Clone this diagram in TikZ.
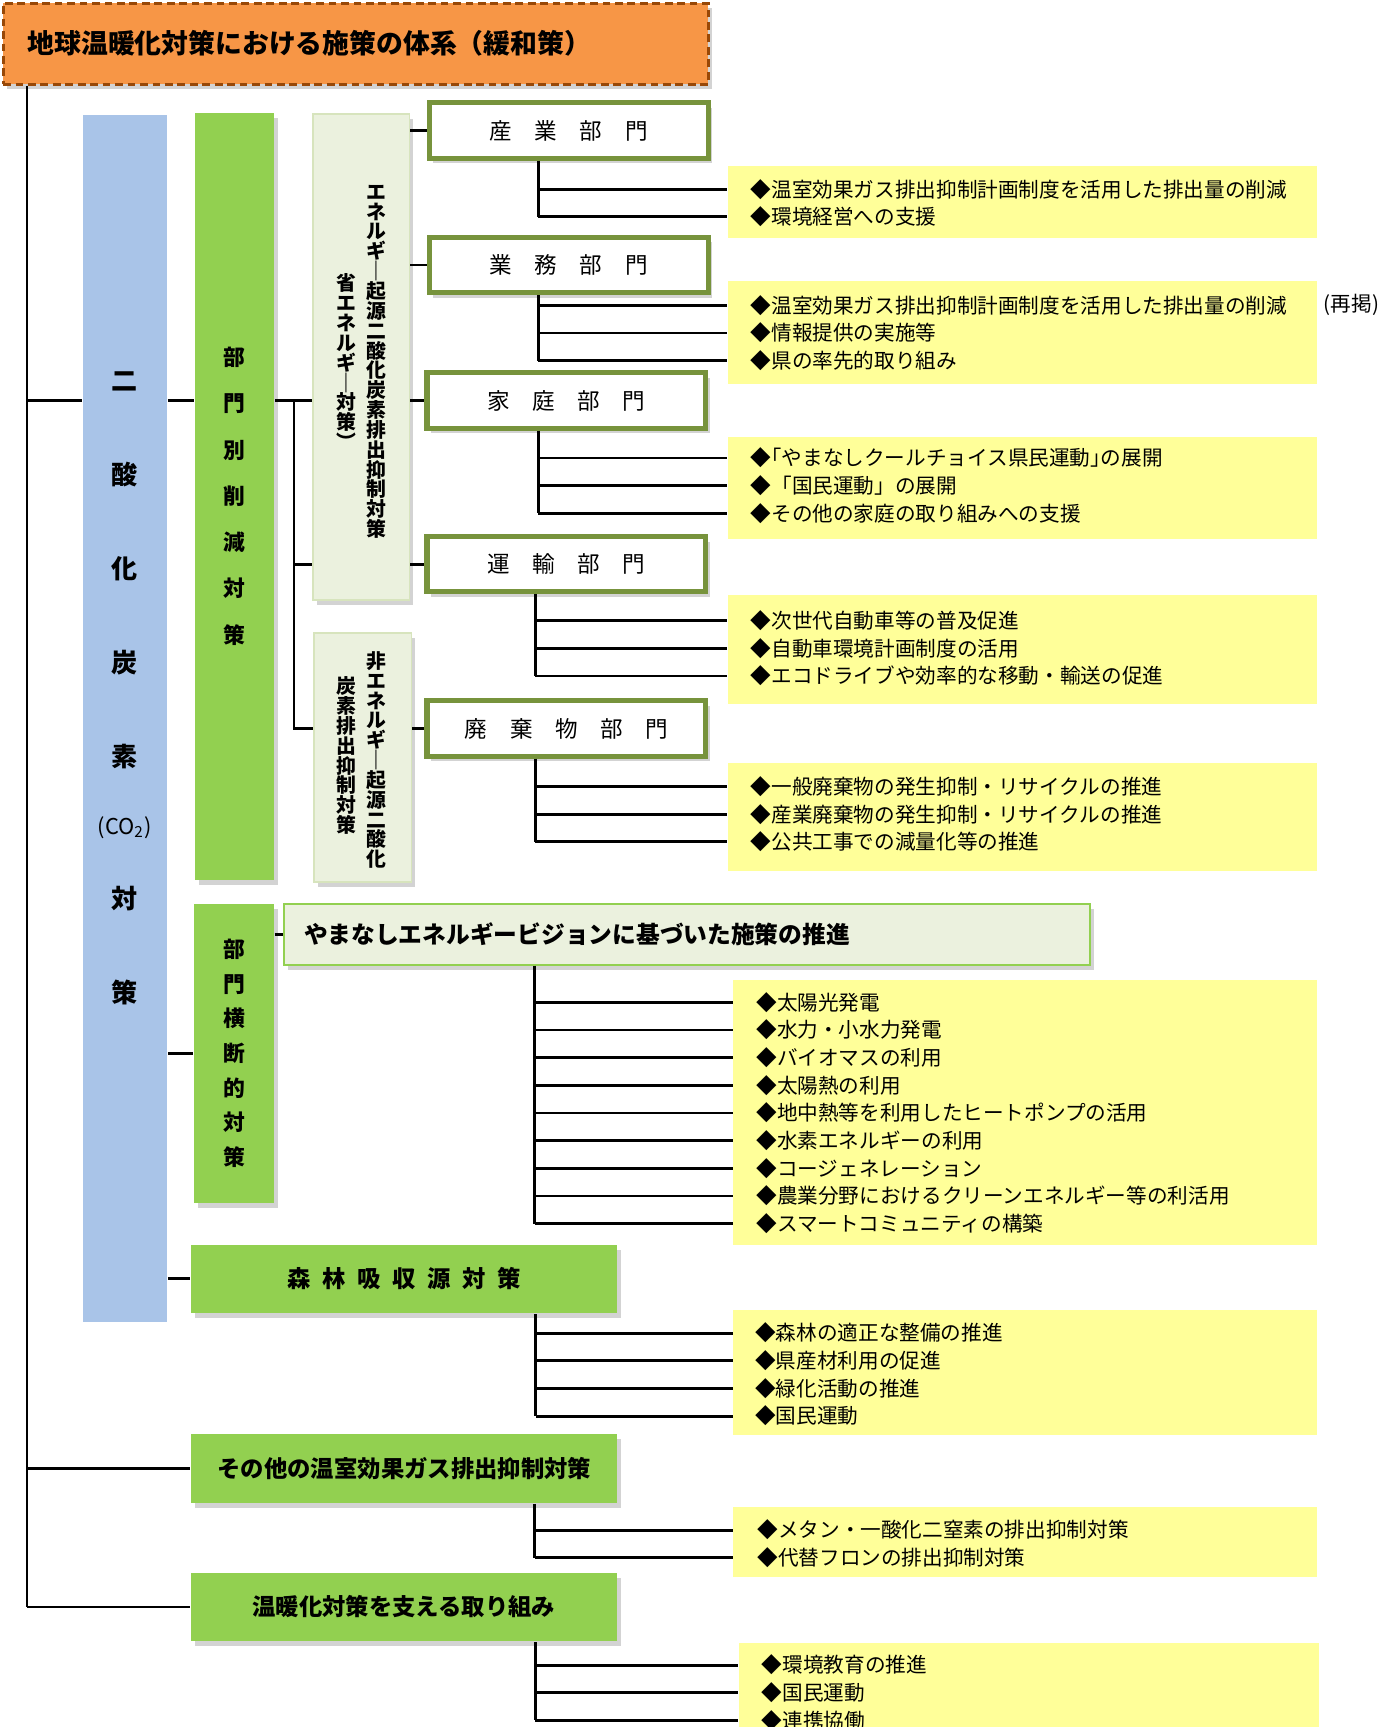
\documentclass[tikz,border=0pt]{standalone}
\usepackage{fontspec}
\setmainfont{Noto Sans CJK JP}
\usetikzlibrary{positioning, shadows}

\definecolor{titleorange}{HTML}{F79646}
\definecolor{titleedge}{HTML}{984807}
\definecolor{co2blue}{HTML}{A9C4E8}
\definecolor{leafgreen}{HTML}{92D050}
\definecolor{olivegreen}{HTML}{77933C}
\definecolor{palegreen}{HTML}{EBF1DE}
\definecolor{paleedge}{HTML}{D7E4BD}
\definecolor{itemyellow}{HTML}{FFFF99}

% item lines inside a yellow box: name, x, first y, list
\newcommand{\itemlist}[4]{%
  \foreach \txt [count=\k] in {#4} {\node[itemtext] (#1-\k) at (#2,{#3+25*(\k-1)}) {\txt};}}
\newcommand{\hsp}{\hspace{0.5em}}

\begin{document}
\begin{tikzpicture}[x=0.01cm, y=-0.01cm,
    boxshadow/.style={drop shadow={opacity=0.35, shadow xshift=0.035cm, shadow yshift=-0.045cm}},
    titlebox/.style={draw=titleedge, dash pattern=on 2pt off 1.2pt, line width=0.8pt, fill=titleorange, minimum width=6.37cm, minimum height=0.73cm, text width=5.93cm, align=left, inner xsep=0.22cm, font=\bfseries\fontsize{6.9}{8}\selectfont, boxshadow},
    colbar/.style={fill=co2blue, inner sep=0, minimum width=0.76cm},
    greenbar/.style={fill=leafgreen, inner sep=0, minimum width=0.72cm, align=center, boxshadow},
    palebox/.style={fill=palegreen, draw=paleedge, line width=0.4pt, inner sep=0, boxshadow},
    tate/.style={inner sep=0, align=center, font=\bfseries\fontsize{5.1}{5.1}\selectfont},
    sector/.style={draw=olivegreen, line width=1.3pt, fill=white, minimum width=2.52cm, minimum height=0.50cm, font=\fontsize{5.8}{6}\selectfont, boxshadow},
    greenbox/.style={fill=leafgreen, minimum width=3.85cm, minimum height=0.62cm, font=\bfseries\fontsize{6}{7}\selectfont, boxshadow},
    itembox/.style={fill=itemyellow, inner sep=0},
    itemtext/.style={anchor=west, inner sep=0, font=\fontsize{5.3}{6}\selectfont},
    conn/.style={line width=0.75pt}]

  \useasboundingbox (0,0) rectangle (1250,1561);

  % title
  \node[titlebox] (title) at (321.5,39.5) {地球温暖化対策における施策の体系（緩和策）};

  % CO2 column
  \node[colbar, minimum height=10.91cm] (co2) at (113,649.5) {};
  \node[inner sep=0, align=center, font=\bfseries\fontsize{6.7}{24.2}\selectfont] (co2txt) at (113,622)
    {二\\酸\\化\\炭\\素\\[-6.9pt]{\mdseries\fontsize{5.6}{7}\selectfont(CO\textsubscript{2})}\\[-5.1pt]対\\策};

  \node[greenbar, minimum height=6.93cm, font=\bfseries\fontsize{5.6}{11.9}\selectfont] (bumon) at (212,448.5) {部\\門\\別\\削\\減\\対\\策};
  \node[greenbar, minimum height=2.70cm, font=\bfseries\fontsize{5.6}{8.9}\selectfont] (oudan) at (211.5,952) {部\\門\\横\\断\\的\\対\\策};

  % energy / non-energy
  \node[palebox, minimum width=0.87cm, minimum height=4.39cm] (ene) at (326.5,322.5) {};
  \node[tate] (eneA) at (340,327) {エ\\ネ\\ル\\ギ\\｜\\起\\源\\二\\酸\\化\\炭\\素\\排\\出\\抑\\制\\対\\策};
  \node[tate] (eneB) at (313,327) {省\\エ\\ネ\\ル\\ギ\\｜\\対\\策\\︶};
  \node[palebox, minimum width=0.88cm, minimum height=2.25cm] (hien) at (328,684.5) {};
  \node[tate] (hienA) at (340,687) {非\\エ\\ネ\\ル\\ギ\\｜\\起\\源\\二\\酸\\化};
  \node[tate] (hienB) at (313,683) {炭\\素\\排\\出\\抑\\制\\対\\策};

  % sectors
  \node[sector] (sang) at (514,118) {産　業　部　門};
  \node[sector] (gyomu) at (514,239.5) {業　務　部　門};
  \node[sector] (katei) at (512,362) {家　庭　部　門};
  \node[sector] (unyu) at (512,510) {運　輸　部　門};
  \node[sector] (haiki) at (512,658.5) {廃　棄　物　部　門};

  \node[palebox, draw=leafgreen, minimum width=7.28cm, minimum height=0.55cm, text width=6.92cm, align=left, inner xsep=0.18cm, font=\bfseries\fontsize{6.1}{7}\selectfont] (vision) at (621,844.5) {やまなしエネルギービジョンに基づいた施策の推進};

  \node[greenbox] (shinrin) at (365.5,1156) {森\hsp 林\hsp 吸\hsp 収\hsp 源\hsp 対\hsp 策};
  \node[greenbox] (sonota) at (365.5,1327.5) {その他の温室効果ガス排出抑制対策};
  \node[greenbox] (shien) at (365,1452.5) {温暖化対策を支える取り組み};

  % yellow boxes
  \node[itembox, minimum width=5.32cm, minimum height=0.65cm] (ysang) at (924,182.5) {};
  \node[itembox, minimum width=5.32cm, minimum height=0.93cm] (ygyomu) at (924,300.5) {};
  \node[itembox, minimum width=5.32cm, minimum height=0.92cm] (ykatei) at (924,441) {};
  \node[itembox, minimum width=5.32cm, minimum height=0.98cm] (yunyu) at (924,587) {};
  \node[itembox, minimum width=5.32cm, minimum height=0.97cm] (yhaiki) at (924,738.5) {};
  \node[itembox, minimum width=5.27cm, minimum height=2.39cm] (yvision) at (926.5,1005.5) {};
  \node[itembox, minimum width=5.27cm, minimum height=1.13cm] (yshinrin) at (926.5,1240.5) {};
  \node[itembox, minimum width=5.27cm, minimum height=0.63cm] (ysonota) at (926.5,1393.5) {};
  \node[itembox, minimum width=5.24cm, minimum height=0.76cm] (yshien) at (930,1523) {};

  \itemlist{ysang}{678}{171}{◆温室効果ガス排出抑制計画制度を活用した排出量の削減, ◆環境経営への支援}
  \itemlist{ygyomu}{678}{276}{◆温室効果ガス排出抑制計画制度を活用した排出量の削減, ◆情報提供の実施等, ◆県の率先的取り組み}
  \itemlist{ykatei}{678}{414}{◆｢やまなしクールチョイス県民運動｣の展開, ◆「国民運動」の展開, ◆その他の家庭の取り組みへの支援}
  \itemlist{yunyu}{678}{561}{◆次世代自動車等の普及促進, ◆自動車環境計画制度の活用, ◆エコドライブや効率的な移動・輸送の促進}
  \itemlist{yhaiki}{678}{711}{◆一般廃棄物の発生抑制・リサイクルの推進, ◆産業廃棄物の発生抑制・リサイクルの推進, ◆公共工事での減量化等の推進}
  \itemlist{yvision}{683}{906}{◆太陽光発電, ◆水力・小水力発電, ◆バイオマスの利用, ◆太陽熱の利用, ◆地中熱等を利用したヒートポンプの活用, ◆水素エネルギーの利用, ◆コージェネレーション, ◆農業分野におけるクリーンエネルギー等の利活用, ◆スマートコミュニティの構築}
  \itemlist{yshinrin}{682}{1205}{◆森林の適正な整備の推進, ◆県産材利用の促進, ◆緑化活動の推進, ◆国民運動}
  \itemlist{ysonota}{684}{1383}{◆メタン・一酸化二窒素の排出抑制対策, ◆代替フロンの排出抑制対策}
  \itemlist{yshien}{688}{1505}{◆環境教育の推進, ◆国民運動, ◆連携協働}

  \node[itemtext] (saikei) at ([xshift=0.05cm]ygyomu.east |- ygyomu-1.west) {(再掲)};

  % trunk and branches
  \coordinate (trunk) at ([xshift=0.23cm]title.south west);
  \draw[conn] (trunk) -- (trunk |- shien.west);
  \draw[conn] (trunk |- katei.west) -- (co2.west |- katei.west);
  \draw[conn] (trunk |- sonota.west) -- (sonota.west);
  \draw[conn] (trunk |- shien.west) -- (shien.west);

  \draw[conn] (co2.east |- katei.west) -- (bumon.west |- katei.west);
  \draw[conn] (co2.east |- oudan.west) -- (oudan.west);
  \draw[conn] (co2.east |- shinrin.west) -- (shinrin.west);
  \draw[conn] (oudan.east |- vision.west) -- (vision.west);

  \coordinate (bumonbus) at ([xshift=0.17cm]bumon.east |- katei.west);
  \draw[conn] (bumon.east |- katei.west) -- (bumonbus) -- (bumonbus |- haiki.west) -- (hien.west |- haiki.west);
  \draw[conn] (bumonbus) -- (ene.west |- katei.west);
  \draw[conn] (bumonbus |- unyu.west) -- (ene.west |- unyu.west);

  \foreach \grp in {sang, gyomu, katei, unyu}
    \draw[conn] (ene.east |- \grp.west) -- (\grp.west);
  \draw[conn] (hien.east |- haiki.west) -- (haiki.west);

  % buses down to the yellow items
  \foreach \grp/\yb/\n/\off in {sang/ysang/2/1.01, gyomu/ygyomu/3/1.01, katei/ykatei/3/1.03, unyu/yunyu/3/1.00, haiki/yhaiki/3/1.00, vision/yvision/9/2.27, shinrin/yshinrin/4/3.12, sonota/ysonota/2/3.11, shien/yshien/3/3.12} {
    \coordinate (\grp-bus) at ([xshift=\off cm]\grp.south west);
    \draw[conn] (\grp-bus) -- (\grp-bus |- \yb-\n.west);
    \foreach \i in {1,...,\n}
      \draw[conn] (\grp-bus |- \yb-\i.west) -- (\yb.west |- \yb-\i.west);
  }
\end{tikzpicture}
\end{document}
